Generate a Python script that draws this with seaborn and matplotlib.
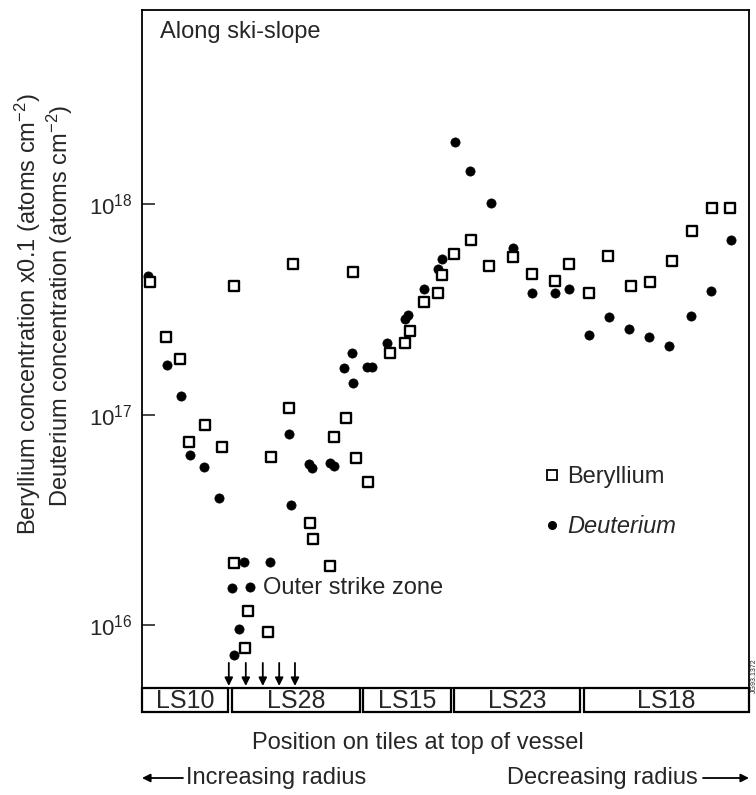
import numpy as np
import pandas as pd
import matplotlib
matplotlib.use("Agg")
import matplotlib.pyplot as plt
import matplotlib.transforms as mtransforms
from matplotlib.patches import Rectangle
from matplotlib.lines import Line2D
from matplotlib.ticker import NullLocator, FixedLocator, FixedFormatter
import seaborn as sns

# ---------------- data ----------------
be_pos = [1.3, 4.0, 6.3, 7.7, 10.4, 13.2, 15.2, 15.2, 17.0, 17.5, 20.8, 21.3, 24.2, 24.9,
          27.7, 28.2, 31.0, 31.6, 33.6, 34.8, 35.3, 37.2, 40.9, 43.3, 44.2, 46.5, 48.8,
          49.4, 51.4, 54.2, 57.2, 61.1, 64.3, 68.0, 70.3, 73.6, 76.8, 80.6, 83.7, 87.3,
          90.6, 93.9, 96.9]
be_val_e17 = [4.25, 2.35, 1.83, 0.74, 0.89, 0.70, 4.1, 0.197, 0.078, 0.117, 0.093, 0.63,
              1.08, 5.2, 0.306, 0.257, 0.191, 0.785, 0.96, 4.75, 0.62, 0.48, 1.97, 2.18,
              2.51, 3.45, 3.77, 4.6, 5.8, 6.8, 5.07, 5.6, 4.64, 4.3, 5.2, 3.77, 5.7, 4.07,
              4.25, 5.4, 7.5, 9.6, 9.6]

d_pos = [1.0, 4.1, 6.4, 7.9, 10.2, 12.7, 14.8, 15.2, 16.0, 16.8, 17.8, 21.1, 24.2, 24.5,
         27.5, 28.0, 31.0, 31.6, 33.3, 34.6, 34.8, 37.1, 37.9, 40.4, 43.3, 43.8, 46.5,
         48.8, 49.4, 51.6, 54.0, 57.5, 61.1, 64.3, 68.0, 70.3, 73.6, 76.9, 80.2, 83.5,
         86.8, 90.4, 93.7, 97.0]
d_val_e17 = [4.54, 1.73, 1.22, 0.64, 0.565, 0.403, 0.15, 0.072, 0.096, 0.20, 0.152, 0.20,
             0.81, 0.373, 0.585, 0.56, 0.59, 0.57, 1.67, 1.97, 1.42, 1.69, 1.69, 2.2,
             2.86, 2.99, 3.94, 4.9, 5.47, 19.7, 14.4, 10.2, 6.17, 3.77, 3.77, 3.94, 2.4,
             2.9, 2.54, 2.33, 2.13, 2.93, 3.86, 6.74]

tile_names = ["LS10", "LS28", "LS15", "LS23", "LS18"]
tile_start = [0.0, 14.8, 36.4, 51.4, 72.8]
tile_end = [14.2, 35.9, 50.9, 72.2, 100.0]

strike_pos = [14.3, 17.1, 19.9, 22.6, 25.2]

ytick_vals = [1e16, 1e17, 1e18]
ytick_labels = [r"$\mathdefault{10^{16}}$", r"$\mathdefault{10^{17}}$", r"$\mathdefault{10^{18}}$"]

be_df = pd.DataFrame({"pos": be_pos, "conc": np.array(be_val_e17) * 1e17})
d_df = pd.DataFrame({"pos": d_pos, "conc": np.array(d_val_e17) * 1e17})

# ---------------- style ----------------
sns.set_style("ticks")
plt.rcParams["font.family"] = ["Liberation Sans", "DejaVu Sans"]
plt.rcParams["mathtext.fontset"] = "custom"
plt.rcParams["mathtext.rm"] = "Liberation Sans"
plt.rcParams["mathtext.it"] = "Liberation Sans:italic"
plt.rcParams["mathtext.bf"] = "Liberation Sans:bold"

FS = 17
W, H = 756, 795
fig = plt.figure(figsize=(W / 100, H / 100), dpi=100)
ax_l, ax_r, ax_t, ax_b = 142, 749, 10, 688
ax = fig.add_axes([ax_l / W, 1 - ax_b / H, (ax_r - ax_l) / W, (ax_b - ax_t) / H])

sns.scatterplot(data=d_df, x="pos", y="conc", ax=ax, marker="o", s=44,
                color="black", edgecolor="black", linewidth=0.5, zorder=3)
sns.scatterplot(data=be_df, x="pos", y="conc", ax=ax, marker="s", s=54,
                color="white", edgecolor="black", linewidth=1.7, zorder=4)

ax.set_yscale("log")
ax.set_xlim(0, 100)
ax.set_ylim(10 ** 15.70, 10 ** 18.924)
ax.yaxis.set_major_locator(FixedLocator(ytick_vals))
ax.yaxis.set_major_formatter(FixedFormatter(ytick_labels))
ax.yaxis.set_minor_locator(NullLocator())
ax.set_xticks([])
ax.tick_params(axis="y", direction="in", length=9, width=1.2, labelsize=16, pad=7)
ax.set_xlabel("")
ax.set_ylabel("")
for sp in ax.spines.values():
    sp.set_linewidth(1.3)
    sp.set_color("black")

# texts inside
ax.text(0.03, 0.967, "Along ski-slope", transform=ax.transAxes, fontsize=FS,
        ha="left", va="center")
ax.text(20.0, 10 ** (18 + (204 - 587) / 210), "Outer strike zone", fontsize=FS,
        ha="left", va="center")

# legend
handles = [Line2D([], [], marker="s", linestyle="none", markerfacecolor="white",
                  markeredgecolor="black", markeredgewidth=1.3, markersize=6.5),
           Line2D([], [], marker="o", linestyle="none", markerfacecolor="black",
                  markeredgecolor="black", markersize=5.5)]
leg = ax.legend(handles, ["Beryllium", "Deuterium"], loc="upper left",
                bbox_to_anchor=(0.662, 0.327), frameon=False, fontsize=FS,
                handlelength=0.7, handletextpad=0.3, labelspacing=1.15,
                borderpad=0, borderaxespad=0)
leg.get_texts()[1].set_fontstyle("italic")

# strike-zone arrows
for xp in strike_pos:
    ax.annotate("", xy=(xp, 0.003), xycoords=("data", "axes fraction"),
                xytext=(xp, 0.037), textcoords=("data", "axes fraction"),
                arrowprops=dict(arrowstyle="-|>", color="black", lw=1.3,
                                mutation_scale=12, shrinkA=0, shrinkB=0))

# tile boxes below the axes
trans = mtransforms.blended_transform_factory(ax.transData, ax.transAxes)
bh = 24 / (ax_b - ax_t)
for name, x0, x1 in zip(tile_names, tile_start, tile_end):
    ax.add_patch(Rectangle((x0, -bh), x1 - x0, bh, transform=trans, fill=False,
                           edgecolor="black", linewidth=1.6, clip_on=False))
    ax.text((x0 + x1) / 2, -bh / 2 - 0.001, name, transform=trans, fontsize=18,
            ha="center", va="center", clip_on=False)

# y label (two lines)
fig.text(28 / W, 1 - 314 / H, r"Beryllium concentration x0.1 (atoms cm$^{-2}$)",
         rotation=90, ha="center", va="center", fontsize=FS)
fig.text(60 / W, 1 - 306 / H, r"Deuterium concentration (atoms cm$^{-2}$)",
         rotation=90, ha="center", va="center", fontsize=FS)

# bottom texts
fig.text(418 / W, 1 - 743 / H, "Position on tiles at top of vessel", ha="center",
         va="center", fontsize=FS)
fig.text(186 / W, 1 - 778 / H, "Increasing radius", ha="left", va="center", fontsize=FS)
ax.annotate("", xy=(142 / W, 1 - 778 / H), xycoords="figure fraction",
            xytext=(183 / W, 1 - 778 / H), textcoords="figure fraction",
            annotation_clip=False,
            arrowprops=dict(arrowstyle="-|>", color="black", lw=1.3,
                            mutation_scale=12, shrinkA=0, shrinkB=0))
fig.text(698 / W, 1 - 778 / H, "Decreasing radius", ha="right", va="center", fontsize=FS)
ax.annotate("", xy=(749 / W, 1 - 778 / H), xycoords="figure fraction",
            xytext=(703 / W, 1 - 778 / H), textcoords="figure fraction",
            annotation_clip=False,
            arrowprops=dict(arrowstyle="-|>", color="black", lw=1.3,
                            mutation_scale=12, shrinkA=0, shrinkB=0))

fig.text(750.5 / W, 1 - 676 / H, "JG93.1372", rotation=90, ha="left", va="center",
         fontsize=5)

fig.savefig("out.png", dpi=100)
